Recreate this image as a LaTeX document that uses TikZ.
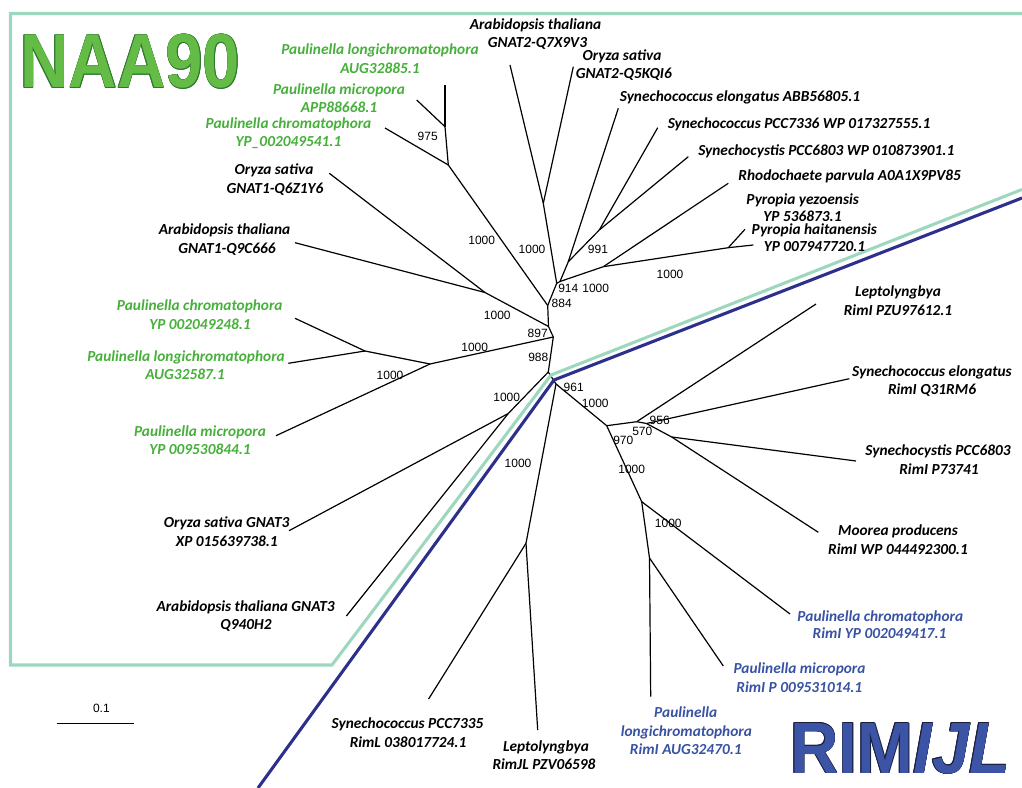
\documentclass[tikz,border=0pt]{standalone}
\usepackage{fontspec}
\setmainfont{Carlito}
\newfontfamily\arialf{Liberation Sans}
\usepackage{graphicx}
\definecolor{naagreen}{RGB}{70,176,58}
\definecolor{naafill}{RGB}{100,188,70}
\definecolor{naaedge}{RGB}{45,120,48}
\definecolor{rimblue}{RGB}{56,82,164}
\definecolor{rimfill}{RGB}{60,84,165}
\definecolor{rimedge}{RGB}{25,30,60}
\definecolor{mint}{RGB}{157,216,190}
\definecolor{navy}{RGB}{44,48,140}
\newcommand{\tl}[5]{\node[#1] (#2) at (#3,#4+4.8) {#5};}
\newcommand{\bsl}[4]{\node[bs] (#1) at (#2,#3+4.3) {#4};}
\newcommand{\bigNAA}{\resizebox{165pt}{40pt}{\arialf\bfseries NAA90}}
\newcommand{\bigRIM}{\resizebox{165pt}{37.5pt}{\arialf\bfseries RIM\textit{IJL}}}
\begin{document}
\begin{tikzpicture}[x=0.75pt,y=-0.75pt,
  br/.style={line width=0.9pt, black, line join=round},
  lbl/.style={font=\bfseries\itshape\fontsize{11.5}{13}\selectfont, inner sep=0pt, anchor=base},
  kl/.style={lbl, text=black},
  gl/.style={lbl, text=naagreen},
  bl/.style={lbl, text=rimblue},
  bs/.style={font=\arialf\fontsize{9}{10}\selectfont, inner sep=0pt, anchor=base},
  mintline/.style={line width=2.3pt, mint, line join=miter},
  navyline/.style={line width=2.3pt, navy, line join=miter},
  big/.style={inner sep=0pt, anchor=base west}]
\useasboundingbox (0,0) rectangle (1022,788);

% ---------- tree coordinates ----------
\coordinate (lPlongN) at (445,85);
\coordinate (lPmicN) at (416.7,100);
\coordinate (lPchrN) at (385,128);
\coordinate (n975) at (445,126.7);
\coordinate (nN2) at (448.3,165);
\coordinate (lOsG1) at (329.3,173.3);
\coordinate (lAtG1) at (295,242.7);
\coordinate (nG1) at (485,292.5);
\coordinate (lAtG2) at (510,65);
\coordinate (lOsG2) at (573.3,66.7);
\coordinate (nG2) at (543.3,203.3);
\coordinate (lSeABB) at (618.3,108.3);
\coordinate (lS7336) at (657.7,127.7);
\coordinate (lS6803) at (688.3,156.7);
\coordinate (n991) at (599.3,230);
\coordinate (nEl) at (568.3,261.7);
\coordinate (lRho) at (728.3,183.3);
\coordinate (nRho) at (603.3,266.7);
\coordinate (nPy) at (728.3,247.7);
\coordinate (lPyez) at (745,229.3);
\coordinate (lPyha) at (753.3,245);
\coordinate (n914) at (556.7,283.3);
\coordinate (nCy) at (560,281.5);
\coordinate (n884) at (547.7,305.5);
\coordinate (n897) at (548.5,326.5);
\coordinate (n988) at (553.3,337);
\coordinate (nQ1) at (365,351);
\coordinate (lPchrS) at (295,318.3);
\coordinate (lPlongS) at (288.3,363.3);
\coordinate (nQ2) at (430,364);
\coordinate (lPmicS) at (276,435.7);
\coordinate (nBot) at (548.3,372);
\coordinate (nG3) at (508.3,413.5);
\coordinate (lOsG3) at (289,530.7);
\coordinate (lAtG3) at (346.4,616);
\coordinate (n961) at (556,384);
\coordinate (nLep) at (526,543.3);
\coordinate (lS7335) at (428.6,699);
\coordinate (lLepJL) at (537.7,730);
\coordinate (n970) at (606.7,425.7);
\coordinate (nR1) at (636.7,421.7);
\coordinate (lLepI) at (816,304);
\coordinate (nR2) at (646.5,423.5);
\coordinate (lSeI) at (849.3,378.7);
\coordinate (nR3) at (671.7,437);
\coordinate (lSyI) at (856,461);
\coordinate (lMoo) at (818.3,532.3);
\coordinate (nB) at (641.7,501.7);
\coordinate (lPchrR) at (790,614);
\coordinate (nD) at (649.5,558);
\coordinate (lPmicR) at (723.3,666);
\coordinate (lPlongR) at (650.7,696.7);

% ---------- branches ----------
\draw[br] (lPlongN) -- (n975);
\draw[br] (lPmicN) -- (n975);
\draw[br] (n975) -- (nN2);
\draw[br] (lPchrN) -- (nN2);
\draw[br] (nN2) -- (n884);
\draw[br] (lOsG1) -- (nG1);
\draw[br] (lAtG1) -- (nG1);
\draw[br] (nG1) -- (n897);
\draw[br] (lAtG2) -- (nG2);
\draw[br] (lOsG2) -- (nG2);
\draw[br] (nG2) -- (n914);
\draw[br] (lSeABB) -- (nEl);
\draw[br] (lS7336) -- (n991);
\draw[br] (lS6803) -- (n991);
\draw[br] (n991) -- (nEl);
\draw[br] (nEl) -- (nCy);
\draw[br] (lRho) -- (nRho);
\draw[br] (nRho) -- (nPy);
\draw[br] (nPy) -- (lPyez);
\draw[br] (nPy) -- (lPyha);
\draw[br] (nRho) -- (nCy);
\draw[br] (nCy) -- (n914);
\draw[br] (n914) -- (n884);
\draw[br] (n884) -- (n897);
\draw[br] (n897) -- (n988);
\draw[br] (n988) -- (nBot);
\draw[br] (lPchrS) -- (nQ1);
\draw[br] (lPlongS) -- (nQ1);
\draw[br] (nQ1) -- (nQ2);
\draw[br] (lPmicS) -- (nQ2);
\draw[br] (nQ2) -- (n988);
\draw[br] (nBot) -- (nG3);
\draw[br] (nG3) -- (lOsG3);
\draw[br] (nG3) -- (lAtG3);
\draw[br] (nBot) -- (n961);
\draw[br] (n961) -- (nLep);
\draw[br] (nLep) -- (lS7335);
\draw[br] (nLep) -- (lLepJL);
\draw[br] (n961) -- (n970);
\draw[br] (n970) -- (nR1);
\draw[br] (nR1) -- (lLepI);
\draw[br] (nR1) -- (nR2);
\draw[br] (nR2) -- (lSeI);
\draw[br] (nR2) -- (nR3);
\draw[br] (nR3) -- (lSyI);
\draw[br] (nR3) -- (lMoo);
\draw[br] (n970) -- (nB);
\draw[br] (nB) -- (lPchrR);
\draw[br] (nB) -- (nD);
\draw[br] (nD) -- (lPmicR);
\draw[br] (nD) -- (lPlongR);

% ---------- frame and separator ----------
\draw[mintline] (1022,13.5) -- (10.5,13.5) -- (10.5,665) -- (332,665) -- (551,375) -- (1022,189.5);
\draw[navyline] (1022,198) -- (554,380) -- (258,788);

% ---------- scale bar ----------
\coordinate (sbA) at (56.6,723.3);
\coordinate (sbB) at (134,723.3);
\draw[line width=0.8pt] (sbA) -- (sbB);
\bsl{sbl}{101.4}{708.3}{0.1}

% ---------- big titles ----------
\foreach \dx/\dy in {0.45/0,-0.45/0,0/0.45,0/-0.45,0.32/0.32,-0.32/0.32,0.32/-0.32,-0.32/-0.32}{
  \node[big, text=naaedge, xshift=\dx pt, yshift=\dy pt] at (20,88) {\bigNAA};
  \node[big, text=rimedge, xshift=\dx pt, yshift=\dy pt] at (790,773) {\bigRIM};
}
\node[big, text=naafill] (naa) at (20,88) {\bigNAA};
\node[big, text=rimfill] (rim) at (790,773) {\bigRIM};

% ---------- leaf labels ----------
\tl{gl}{a1}{380}{50}{Paulinella longichromatophora}
\tl{gl}{a2}{380}{68.3}{AUG32885.1}
\tl{gl}{b1}{339}{89.3}{Paulinella micropora}
\tl{gl}{b2}{339}{107.3}{APP88668.1}
\tl{gl}{c1}{288.5}{123.3}{Paulinella chromatophora}
\tl{gl}{c2}{288.5}{141.7}{YP\_002049541.1}
\tl{kl}{d1}{274}{170}{Oryza sativa}
\tl{kl}{d2}{275}{188.3}{GNAT1-Q6Z1Y6}
\tl{kl}{e1}{224.5}{230}{Arabidopsis thaliana}
\tl{kl}{e2}{227}{248.3}{GNAT1-Q9C666}
\tl{kl}{f1}{535.5}{25}{Arabidopsis thaliana}
\tl{kl}{f2}{537.5}{42.3}{GNAT2-Q7X9V3}
\tl{kl}{g1}{622}{56}{Oryza sativa}
\tl{kl}{g2}{623.8}{74}{GNAT2-Q5KQI6}
\tl{kl}{h1}{740}{96.7}{Synechococcus elongatus ABB56805.1}
\tl{kl}{i1}{799}{123.3}{Synechococcus PCC7336 WP 017327555.1}
\tl{kl}{j1}{826.3}{150.5}{Synechocystis PCC6803 WP 010873901.1}
\tl{kl}{k1}{849.7}{175.7}{Rhodochaete parvula A0A1X9PV85}
\tl{kl}{l1}{802.7}{200}{Pyropia yezoensis}
\tl{kl}{l2}{802.5}{216.5}{YP 536873.1}
\tl{kl}{m1}{814.3}{229.5}{Pyropia haitanensis}
\tl{kl}{m2}{814.5}{246.7}{YP 007947720.1}
\tl{kl}{n1}{898}{291.7}{Leptolyngbya}
\tl{kl}{n2}{898}{310.7}{RimI PZU97612.1}
\tl{kl}{o1}{932}{371.7}{Synechococcus elongatus}
\tl{kl}{o2}{932}{389.3}{RimI Q31RM6}
\tl{kl}{p1}{938}{450.7}{Synechocystis PCC6803}
\tl{kl}{p2}{939}{469.3}{RimI P73741}
\tl{kl}{q1}{898}{531}{Moorea producens}
\tl{kl}{q2}{898}{549.3}{RimI WP 044492300.1}
\tl{bl}{r1}{880.3}{616.7}{Paulinella chromatophora}
\tl{bl}{r2}{879.5}{634}{RimI YP 002049417.1}
\tl{bl}{s1}{799.5}{669}{Paulinella micropora}
\tl{bl}{s2}{799.3}{687.7}{RimI P 009531014.1}
\tl{bl}{t1}{685.7}{712.3}{Paulinella}
\tl{bl}{t2}{686.3}{731.3}{longichromatophora}
\tl{bl}{t3}{685.8}{749.3}{RimI AUG32470.1}
\tl{kl}{u1}{546}{746.7}{Leptolyngbya}
\tl{kl}{u2}{544}{765}{RimJL PZV06598}
\tl{kl}{v1}{407.5}{724}{Synechococcus PCC7335}
\tl{kl}{v2}{408}{743}{RimL 038017724.1}
\tl{kl}{w1}{226.7}{523}{Oryza sativa GNAT3}
\tl{kl}{w2}{226.8}{542}{XP 015639738.1}
\tl{kl}{x1}{245.6}{606.7}{Arabidopsis thaliana GNAT3}
\tl{kl}{x2}{246}{624.3}{Q940H2}
\tl{gl}{y1}{199.7}{306}{Paulinella chromatophora}
\tl{gl}{y2}{200}{324.3}{YP 002049248.1}
\tl{gl}{z1}{186}{356.7}{Paulinella longichromatophora}
\tl{gl}{z2}{185}{375}{AUG32587.1}
\tl{gl}{zz1}{200}{431.7}{Paulinella micropora}
\tl{gl}{zz2}{200}{450}{YP 009530844.1}

% ---------- bootstrap values ----------
\bsl{s975}{427.7}{136.7}{975}
\bsl{sNAA}{481.7}{240.7}{1000}
\bsl{sG2}{532}{249.3}{1000}
\bsl{sG1}{497.3}{315}{1000}
\bsl{s991}{598}{249.3}{991}
\bsl{s914}{568.3}{288.3}{914}
\bsl{sCy}{595.7}{288.3}{1000}
\bsl{sPy}{670}{274.3}{1000}
\bsl{s884}{561.7}{302.7}{884}
\bsl{s897}{537.7}{332.7}{897}
\bsl{s988}{538.3}{356.7}{988}
\bsl{sQ2}{474.7}{346.7}{1000}
\bsl{sQ1}{390}{375}{1000}
\bsl{s961}{573.7}{386.7}{961}
\bsl{s970b}{595.3}{403.3}{1000}
\bsl{sG3}{506.7}{396.7}{1000}
\bsl{sLep}{518}{462.7}{1000}
\bsl{s956}{659.7}{420}{956}
\bsl{s570}{642.3}{431}{570}
\bsl{s970}{623.3}{440}{970}
\bsl{sB}{631.7}{469}{1000}
\bsl{sD}{668.3}{523.3}{1000}
\end{tikzpicture}
\end{document}
